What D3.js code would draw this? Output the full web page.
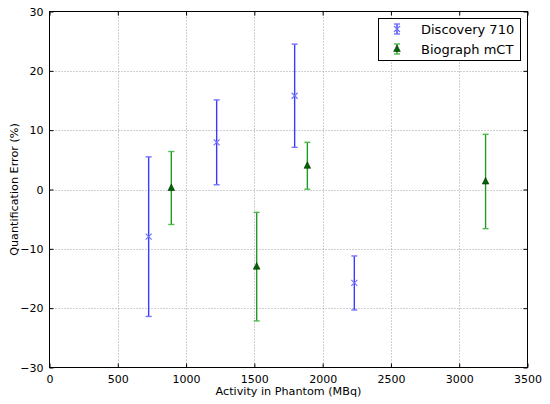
<!DOCTYPE html>
<html>
<head>
    <script src="https://cdn.jsdelivr.net/npm/d3@7"></script>
    <title>Quantification error</title>
    <style>
        body { margin: 0; background: #fff; }
        text { font-family: "DejaVu Sans", sans-serif; fill: #000; }
    </style>
</head>
<body>
<script>
    // Data
    var discX   = [726, 1224, 1795, 2232];
    var discY   = [-7.95, 7.95, 15.8, -15.75];
    var discErr = [13.45, 7.15, 8.7, 4.55];

    var bioX   = [892, 1517, 1888, 3193];
    var bioY   = [0.25, -13.0, 4.0, 1.35];
    var bioErr = [6.15, 9.15, 3.95, 7.95];

    var xTicks = [0, 500, 1000, 1500, 2000, 2500, 3000, 3500];
    var yTicks = [-30, -20, -10, 0, 10, 20, 30];

    var seriesNames = ["Discovery 710", "Biograph mCT"];

    var width = 550, height = 404;
    var plotL = 49.5, plotR = 527.5, plotT = 11.5, plotB = 367.5;

    var xScale = d3.scaleLinear().domain([0, 3500]).range([plotL, plotR]);
    var yScale = d3.scaleLinear().domain([-30, 30]).range([plotB, plotT]);

    var svg = d3.select("body").append("svg")
        .attr("width", width)
        .attr("height", height);

    // grid
    svg.append("g").selectAll("line")
        .data(xTicks.slice(1, -1))
        .enter().append("line")
        .attr("x1", function(d){ return Math.round(xScale(d)) + 0.5; })
        .attr("x2", function(d){ return Math.round(xScale(d)) + 0.5; })
        .attr("y1", plotT).attr("y2", plotB)
        .attr("stroke", "#a0a0a0").attr("stroke-dasharray", "1,2");

    svg.append("g").selectAll("line")
        .data(yTicks.slice(1, -1))
        .enter().append("line")
        .attr("y1", function(d){ return Math.round(yScale(d)) + 0.5; })
        .attr("y2", function(d){ return Math.round(yScale(d)) + 0.5; })
        .attr("x1", plotL).attr("x2", plotR)
        .attr("stroke", "#a0a0a0").attr("stroke-dasharray", "1,2");

    // axes with inward ticks
    var xAxis = d3.axisBottom(xScale).tickValues(xTicks).tickSizeInner(-4).tickSizeOuter(0).tickPadding(8)
        .tickFormat(d3.format("d"));
    var yAxis = d3.axisLeft(yScale).tickValues(yTicks).tickSizeInner(-4).tickSizeOuter(0).tickPadding(6)
        .tickFormat(function(d){ return d < 0 ? "\u2212" + Math.abs(d) : d; });

    var gx = svg.append("g").attr("transform", "translate(0," + plotB + ")").call(xAxis);
    var gy = svg.append("g").attr("transform", "translate(" + plotL + ",0)").call(yAxis);
    var gxt = svg.append("g").attr("transform", "translate(0," + plotT + ")")
        .call(d3.axisTop(xScale).tickValues(xTicks).tickSizeInner(-4).tickSizeOuter(0).tickFormat(""));
    var gyr = svg.append("g").attr("transform", "translate(" + plotR + ",0)")
        .call(d3.axisRight(yScale).tickValues(yTicks).tickSizeInner(-4).tickSizeOuter(0).tickFormat(""));

    [gx, gy, gxt, gyr].forEach(function(g){
        g.select(".domain").remove();
        g.selectAll("line").attr("stroke", "#000");
        g.selectAll("text").attr("font-size", 11).attr("font-family", "DejaVu Sans").attr("fill", "#000");
    });

    // frame
    svg.append("rect")
        .attr("x", plotL).attr("y", plotT)
        .attr("width", plotR - plotL).attr("height", plotB - plotT)
        .attr("fill", "none").attr("stroke", "#000").attr("stroke-width", 1);

    // axis labels
    svg.append("text")
        .attr("x", (plotL + plotR) / 2).attr("y", 395)
        .attr("text-anchor", "middle").attr("font-size", 11.2)
        .text("Activity in Phantom (MBq)");

    svg.append("text")
        .attr("transform", "translate(18," + ((plotT + plotB) / 2) + ") rotate(-90)")
        .attr("text-anchor", "middle").attr("font-size", 11.2)
        .text("Quantification Error (%)");

    // error bar helper
    function drawErrorBars(xs, ys, errs, lineColor, capColor){
        var g = svg.append("g");
        var data = xs.map(function(x, i){ return [x, ys[i], errs[i]]; });
        g.selectAll(".bar").data(data).enter().append("line")
            .attr("x1", function(d){ return xScale(d[0]); })
            .attr("x2", function(d){ return xScale(d[0]); })
            .attr("y1", function(d){ return yScale(d[1] + d[2]); })
            .attr("y2", function(d){ return yScale(d[1] - d[2]); })
            .attr("stroke", lineColor).attr("stroke-width", 1.4);
        [1, -1].forEach(function(s){
            g.selectAll(".cap" + s).data(data).enter().append("line")
                .attr("x1", function(d){ return xScale(d[0]) - 3; })
                .attr("x2", function(d){ return xScale(d[0]) + 3; })
                .attr("y1", function(d){ return yScale(d[1] + s * d[2]); })
                .attr("y2", function(d){ return yScale(d[1] + s * d[2]); })
                .attr("stroke", capColor).attr("stroke-width", 1.4);
        });
        return g;
    }

    function xMark(g, cx, cy){
        g.append("path")
            .attr("d", "M" + (cx - 3) + "," + (cy - 3) + "L" + (cx + 3) + "," + (cy + 3) +
                       "M" + (cx - 3) + "," + (cy + 3) + "L" + (cx + 3) + "," + (cy - 3))
            .attr("stroke", "#7373ff").attr("stroke-width", 1.2).attr("fill", "none");
    }

    function triMark(g, cx, cy){
        g.append("path")
            .attr("d", "M" + cx + "," + (cy - 4) + "L" + (cx + 3.3) + "," + (cy + 2.5) + "L" + (cx - 3.3) + "," + (cy + 2.5) + "Z")
            .attr("fill", "#006400").attr("stroke", "#003300").attr("stroke-width", 0.6);
    }

    var gDisc = drawErrorBars(discX, discY, discErr, "#3a3aff", "#7373ff");
    discX.forEach(function(x, i){ xMark(gDisc, xScale(x), yScale(discY[i])); });

    var gBio = drawErrorBars(bioX, bioY, bioErr, "#229922", "#4cbb4c");
    bioX.forEach(function(x, i){ triMark(gBio, xScale(x), yScale(bioY[i])); });

    // legend
    var lg = svg.append("g");
    lg.append("rect")
        .attr("x", 378.5).attr("y", 18.5).attr("width", 142).attr("height", 42)
        .attr("fill", "#fff").attr("stroke", "#000").attr("stroke-width", 1);

    var legendRows = [
        { y: 29, line: "#3a3aff", cap: "#7373ff", mark: xMark },
        { y: 49, line: "#229922", cap: "#4cbb4c", mark: triMark }
    ];
    legendRows.forEach(function(r, i){
        var lx = 397;
        lg.append("line").attr("x1", lx).attr("x2", lx).attr("y1", r.y - 5).attr("y2", r.y + 5)
            .attr("stroke", r.line).attr("stroke-width", 1.4);
        [-5, 5].forEach(function(o){
            lg.append("line").attr("x1", lx - 3).attr("x2", lx + 3).attr("y1", r.y + o).attr("y2", r.y + o)
                .attr("stroke", r.cap).attr("stroke-width", 1.4);
        });
        r.mark(lg, lx, r.y);
        lg.append("text").attr("x", 421).attr("y", r.y + 5)
            .attr("font-size", 13).text(seriesNames[i]);
    });
</script>
</body>
</html>
